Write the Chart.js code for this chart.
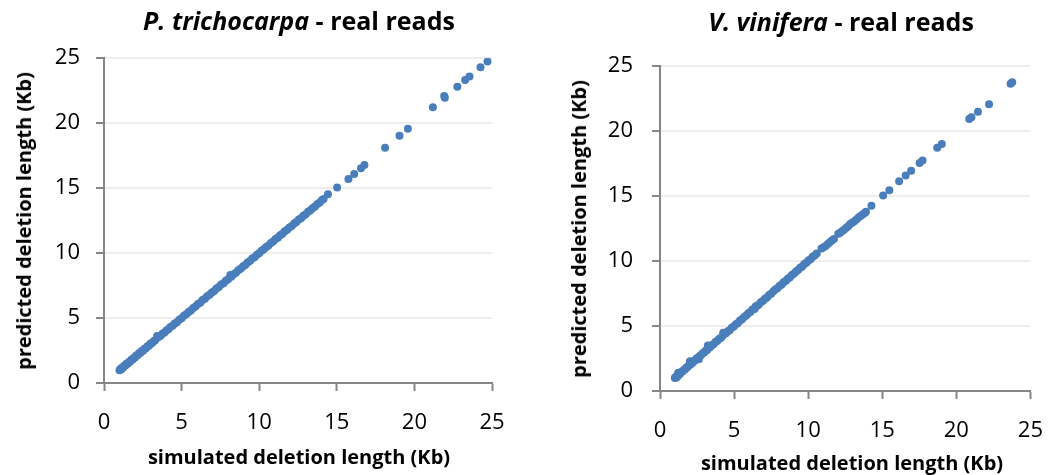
<!DOCTYPE html>
<html>
<head>
<meta charset="utf-8">
<script src="https://cdn.jsdelivr.net/npm/chart.js@4.4.1/dist/chart.umd.min.js"></script>
<style>
  body { margin: 0; background: #fff; width: 1062px; height: 475px; overflow: hidden; position: relative; font-family: "Open Sans", sans-serif; color: #000; }
  .panel { position: absolute; top: 0; width: 531px; height: 475px; }
  .panel canvas { position: absolute; left: 0; top: 0; }
  .lbl { position: absolute; white-space: nowrap; font-weight: bold; line-height: 1; transform: translate(-50%, -50%); }
  .title { font-size: 25px; }
  .axis { font-size: 20px; }
  .rot { transform: translate(-50%, -50%) rotate(-90deg); }
</style>
</head>
<body>
<div class="panel" style="left:0">
  <canvas id="poplar" width="531" height="475"></canvas>
  <div class="lbl title" style="left:299px; top:20px"><i>P. trichocarpa</i> - real reads</div>
  <div class="lbl axis rot" style="left:24px; top:221px">predicted deletion length (Kb)</div>
  <div class="lbl axis" style="left:299px; top:457px">simulated deletion length (Kb)</div>
</div>
<div class="panel" style="left:531px">
  <canvas id="grape" width="531" height="475"></canvas>
  <div class="lbl title" style="left:310px; top:21px"><i>V. vinifera</i> - real reads</div>
  <div class="lbl axis rot" style="left:48px; top:229px">predicted deletion length (Kb)</div>
  <div class="lbl axis" style="left:321px; top:463px">simulated deletion length (Kb)</div>
</div>
<script>
// axis ticks (Kb)
const axisTicks = [0, 5, 10, 15, 20, 25]

// P. trichocarpa: simulated vs predicted deletion length (Kb)
const poplarSim = [1.00, 1.04, 1.08, 1.12, 1.18, 1.24, 1.30, 1.38, 1.45, 1.52, 1.60, 1.68, 1.76, 1.84, 1.92, 2.00,
  2.08, 2.16, 2.25, 2.34, 2.43, 2.52, 2.61, 2.70, 2.80, 2.90, 3.00, 3.10, 3.20, 3.30, 3.42, 3.46, 3.55, 3.65,
  3.78, 3.90, 4.02, 4.15, 4.28, 4.42, 4.56, 4.70, 4.85, 5.00, 5.15, 5.30, 5.45, 5.60, 5.75, 5.90, 6.05, 6.20,
  6.35, 6.50, 6.65, 6.80, 6.95, 7.10, 7.25, 7.40, 7.55, 7.70, 7.85, 8.00, 8.14, 8.20, 8.35, 8.50, 8.65, 8.80,
  8.95, 9.10, 9.25, 9.40, 9.55, 9.70, 9.85, 10.00, 10.15, 10.30, 10.45, 10.60, 10.75, 10.90, 11.05, 11.20,
  11.35, 11.50, 11.65, 11.80, 11.95, 12.10, 12.25, 12.40, 12.55, 12.70, 12.85, 13.00, 13.15, 13.30, 13.45,
  13.60, 13.75, 13.90, 14.05, 14.15, 14.43, 15.02, 15.75, 16.12, 16.56, 16.78, 18.11, 19.04, 19.58, 21.19,
  21.92, 21.96, 22.77, 23.27, 23.55, 24.26, 24.71]
const poplarPred = [0.98, 1.02, 1.10, 1.06, 1.20, 1.20, 1.32, 1.34, 1.48, 1.48, 1.62, 1.64, 1.79, 1.80, 1.95, 1.96,
  2.12, 2.13, 2.28, 2.30, 2.46, 2.49, 2.64, 2.67, 2.83, 2.87, 3.03, 3.07, 3.22, 3.28, 3.62, 3.50, 3.58, 3.63,
  3.80, 3.88, 4.04, 4.13, 4.30, 4.40, 4.58, 4.68, 4.87, 4.98, 5.17, 5.28, 5.47, 5.58, 5.77, 5.88, 6.07, 6.18,
  6.38, 6.48, 6.67, 6.78, 6.97, 7.08, 7.27, 7.38, 7.57, 7.68, 7.87, 7.98, 8.31, 8.18, 8.37, 8.48, 8.67, 8.78,
  8.97, 9.08, 9.27, 9.38, 9.57, 9.68, 9.87, 9.98, 10.17, 10.28, 10.47, 10.58, 10.77, 10.88, 11.07, 11.18,
  11.37, 11.48, 11.67, 11.78, 11.97, 12.08, 12.27, 12.38, 12.57, 12.68, 12.87, 12.98, 13.17, 13.28, 13.47,
  13.58, 13.77, 13.88, 14.07, 14.16, 14.52, 15.03, 15.70, 16.08, 16.51, 16.77, 18.10, 19.02, 19.56, 21.21,
  22.08, 21.95, 22.78, 23.30, 23.58, 24.28, 24.73]

// V. vinifera: simulated vs predicted deletion length (Kb)
const grapeSim = [1.00, 1.04, 1.08, 1.12, 1.18, 1.22, 1.28, 1.30, 1.38, 1.46, 1.54, 1.62, 1.70, 1.78, 1.86, 1.94,
  2.02, 2.06, 2.14, 2.22, 2.31, 2.40, 2.49, 2.58, 2.62, 2.68, 2.78, 2.88, 2.98, 3.08, 3.18, 3.23, 3.28, 3.38,
  3.50, 3.62, 3.74, 3.86, 3.98, 4.10, 4.22, 4.27, 4.34, 4.46, 4.58, 4.70, 4.84, 4.98, 5.12, 5.26, 5.40, 5.54,
  5.68, 5.82, 5.96, 6.10, 6.24, 6.38, 6.45, 6.52, 6.66, 6.80, 6.94, 7.08, 7.22, 7.36, 7.50, 7.64, 7.78, 7.92,
  8.06, 8.20, 8.34, 8.48, 8.62, 8.76, 8.90, 9.04, 9.18, 9.32, 9.46, 9.60, 9.74, 9.88, 10.02, 10.16, 10.30,
  10.44, 10.58, 10.90, 11.04, 11.18, 11.32, 11.46, 11.60, 11.74, 12.03, 12.16, 12.30, 12.44, 12.58, 12.72,
  12.86, 13.00, 13.14, 13.28, 13.42, 13.56, 13.70, 13.84, 13.90, 14.27, 15.06, 15.48, 16.14, 16.58, 16.95,
  17.52, 17.72, 18.71, 19.02, 20.87, 21.02, 21.46, 22.21, 23.66, 23.77]
const grapePred = [1.00, 1.06, 1.02, 1.14, 1.12, 1.38, 1.40, 1.26, 1.36, 1.48, 1.52, 1.64, 1.68, 1.80, 1.84, 1.97,
  2.28, 2.04, 2.16, 2.20, 2.33, 2.38, 2.52, 2.56, 2.45, 2.70, 2.76, 2.90, 2.96, 3.10, 3.16, 3.50, 3.30, 3.36,
  3.52, 3.60, 3.76, 3.84, 4.00, 4.08, 4.24, 4.49, 4.40, 4.44, 4.60, 4.68, 4.86, 4.96, 5.14, 5.24, 5.42, 5.52,
  5.70, 5.80, 5.98, 6.08, 6.26, 6.30, 6.50, 6.54, 6.64, 6.82, 6.92, 7.10, 7.20, 7.38, 7.48, 7.66, 7.80, 7.90,
  8.08, 8.18, 8.36, 8.46, 8.64, 8.74, 8.92, 9.02, 9.20, 9.30, 9.48, 9.58, 9.76, 9.86, 10.04, 10.14, 10.32,
  10.42, 10.58, 10.96, 11.06, 11.16, 11.30, 11.44, 11.58, 11.70, 12.10, 12.18, 12.30, 12.42, 12.56, 12.70,
  12.86, 12.96, 13.08, 13.22, 13.36, 13.48, 13.60, 13.72, 13.78, 14.25, 15.04, 15.45, 16.14, 16.58, 16.94,
  17.53, 17.74, 18.71, 19.00, 20.92, 21.05, 21.48, 22.05, 23.64, 23.75]

const AXIS_GREY = "#868686"

function makeChart(id, sim, pred, area) {
  const points = sim.map((x, i) => ({ x: x, y: pred[i] }))
  const tickFont = { family: "Open Sans", size: 22 }
  const canvas = document.getElementById(id)
  return new Chart(canvas.getContext("2d"), {
    type: "scatter",
    data: {
      datasets: [{
        data: points,
        backgroundColor: "#4a7ebb",
        borderWidth: 0,
        pointRadius: 4,
      }],
    },
    options: {
      responsive: false,
      animation: false,
      devicePixelRatio: 1,
      layout: { padding: { left: 0, top: area.top, right: 531 - area.right, bottom: 0 } },
      plugins: { legend: { display: false }, tooltip: { enabled: false } },
      scales: {
        x: {
          type: "linear",
          min: 0, max: 25,
          afterBuildTicks: (s) => { s.ticks = axisTicks.map((v) => ({ value: v })) },
          afterFit: (s) => { s.height = 475 - area.bottom },
          border: { color: AXIS_GREY, width: 2 },
          grid: { drawOnChartArea: false, drawTicks: true, tickLength: 8, tickColor: AXIS_GREY, tickWidth: 2 },
          ticks: { font: tickFont, color: "#000", padding: 19, maxRotation: 0 },
        },
        y: {
          type: "linear",
          min: 0, max: 25,
          afterBuildTicks: (s) => { s.ticks = axisTicks.map((v) => ({ value: v })) },
          afterFit: (s) => { s.width = area.left },
          border: { color: AXIS_GREY, width: 2 },
          grid: { color: "#eeeeee", lineWidth: 2, drawTicks: true, tickLength: 8, tickColor: AXIS_GREY, tickWidth: 2 },
          ticks: { font: tickFont, color: "#000", padding: area.labelPad },
        },
      },
    },
  })
}

makeChart("poplar", poplarSim, poplarPred, { left: 104, right: 492, top: 58, bottom: 383, labelPad: 16 })
makeChart("grape", grapeSim, grapePred, { left: 129, right: 513, top: 66, bottom: 391, labelPad: 19 })
</script>
</body>
</html>
